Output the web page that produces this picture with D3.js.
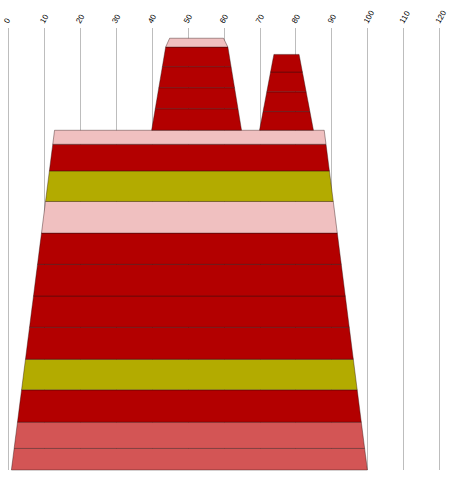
<!DOCTYPE html>
<html>
<head>
<meta charset="utf-8">
<script src="https://cdn.jsdelivr.net/npm/d3@7"></script>
<style>
  body { margin: 0; background: #fff; }
  svg text { font-family: "Liberation Sans", Arial, sans-serif; font-size: 8px; fill: #000; }
</style>
</head>
<body>
<div id="chart"></div>
<script>
// Data
const xTicks = [0, 10, 20, 30, 40, 50, 60, 70, 80, 90, 100, 110, 120];

const RED = '#b30000', OLIVE = '#b3ab00', PINK = '#f0c0c0', ROSE = '#d35555';

// main body: bottom edge and top edge (x units), band thicknesses from bottom up
const bodyBase = [1, 100];
const bodyTop = [13, 88];
const bodyBands = [6.0, 7.3, 9.0, 8.5, 8.9, 8.7, 8.8, 8.7, 8.8, 8.5, 7.4, 3.9];
const bodyColors = [ROSE, ROSE, RED, OLIVE, RED, RED, RED, RED, PINK, OLIVE, RED, PINK];

// left peak, plus its pink cap
const peakABase = [40, 65];
const peakATop = [43.9, 61.2];
const peakABands = [6.0, 5.85, 5.85, 5.45];
const peakAColors = [RED, RED, RED, RED];
const capATop = [45, 60];
const capABands = [2.45];
const capAColors = [PINK];

// right peak
const peakBBase = [70, 85];
const peakBTop = [74, 81];
const peakBBands = [5.2, 5.5, 5.5, 4.9];
const peakBColors = [RED, RED, RED, RED];

// Layout
const width = 452, height = 477;
const svg = d3.select('#chart').append('svg')
    .attr('width', width)
    .attr('height', height);

const x = d3.scaleLinear().domain([0, 120]).range([7.8, 439.3]);
const y = d3.scaleLinear().domain([0, 120]).range([470, 38.6]);

// gridlines
svg.append('g')
    .selectAll('line')
    .data(xTicks)
    .join('line')
    .attr('x1', d => Math.round(x(d)) + 0.5)
    .attr('x2', d => Math.round(x(d)) + 0.5)
    .attr('y1', 28)
    .attr('y2', 470)
    .attr('stroke', '#bdbdbd')
    .attr('stroke-width', 1);

// tick labels
svg.append('g')
    .selectAll('text')
    .data(xTicks)
    .join('text')
    .attr('transform', d => `translate(${x(d) + 0.5},24) rotate(-60)`)
    .attr('text-anchor', 'start')
    .text(d => d);

const line = d3.line().curve(d3.curveLinearClosed);

function drawStack(base, top, bands, colors, y0) {
    const h = d3.sum(bands);
    const edge = (i, v) => base[i] + (top[i] - base[i]) * (v - y0) / h;
    let cur = y0;
    const polys = bands.map((b, i) => {
        const a = cur, c = cur + b;
        cur = c;
        return {
            color: colors[i],
            pts: [
                [x(edge(0, a)), y(a)],
                [x(edge(1, a)), y(a)],
                [x(edge(1, c)), y(c)],
                [x(edge(0, c)), y(c)]
            ]
        };
    });
    svg.append('g')
        .selectAll('path')
        .data(polys)
        .join('path')
        .attr('d', d => line(d.pts))
        .attr('fill', d => d.color)
        .attr('stroke', '#2a1010')
        .attr('stroke-opacity', 0.4)
        .attr('stroke-width', 1);
    return y0 + h;
}

const bodyHeight = drawStack(bodyBase, bodyTop, bodyBands, bodyColors, 0);
const peakAHeight = drawStack(peakABase, peakATop, peakABands, peakAColors, bodyHeight);
drawStack(peakATop, capATop, capABands, capAColors, peakAHeight);
drawStack(peakBBase, peakBTop, peakBBands, peakBColors, bodyHeight);
</script>
</body>
</html>
